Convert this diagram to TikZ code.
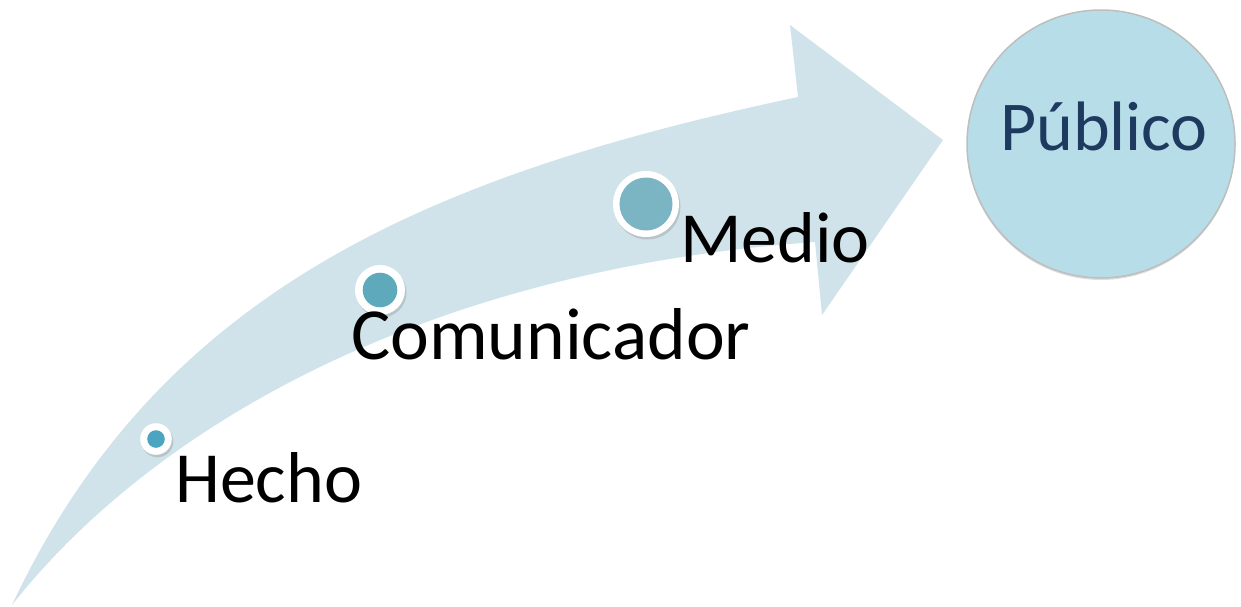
\documentclass[tikz,border=0pt]{standalone}
\usepackage{fontspec}
\setmainfont{Carlito}
\usetikzlibrary{shadows}
\definecolor{arrowfill}{HTML}{D0E3EA}
\definecolor{hechoc}{HTML}{4BA5C0}
\definecolor{comc}{HTML}{5FA9BC}
\definecolor{medioc}{HTML}{7BB4C3}
\definecolor{pubfill}{HTML}{B7DDE8}
\definecolor{pubborder}{HTML}{BEBEBE}
\definecolor{pubtext}{HTML}{1F3A5F}
\tikzset{
  ring/.style={circle, fill=white, draw=none, inner sep=0pt,
    drop shadow={opacity=0.3, shadow xshift=1.5pt, shadow yshift=-2.5pt}},
  core/.style={circle, draw=none, inner sep=0pt},
  lbl/.style={anchor=base west, inner sep=0pt, text=black, font=\fontsize{72}{86}\selectfont}
}
\begin{document}
\begin{tikzpicture}[x=1pt,y=-1pt]
\useasboundingbox (0,0) rectangle (1241,606);
% curved arrow
\fill[arrowfill] (12,605) .. controls (160,290) and (430,175) .. (798,97)
  -- (790,25) -- (943,140) -- (822,315) -- (815,242)
  .. controls (420,270) and (150,430) .. (12,605) -- cycle;
% dots
\node[ring, minimum size=31.6pt] (hring) at (156,439) {};
\node[core, fill=hechoc, minimum size=17.6pt] (hdot) at (hring.center) {};
\node[ring, minimum size=50pt] (cring) at (380,290) {};
\node[core, fill=comc, minimum size=34.6pt] (cdot) at (cring.center) {};
\node[ring, minimum size=66pt] (mring) at (646,204) {};
\node[core, fill=medioc, minimum size=53pt] (mdot) at (mring.center) {};
% labels
\node[lbl] (hecho) at (175,502) {Hecho};
\node[lbl, font=\fontsize{73.5}{88}\selectfont] (comunicador) at (351,359) {Comunicador};
\node[lbl] (medio) at (680,262) {Medio};
% publico
\node[circle, fill=pubfill, draw=pubborder, line width=1.5pt, inner sep=0pt, minimum size=268pt,
  drop shadow={opacity=0.25, shadow xshift=0pt, shadow yshift=-2pt}] (pub) at (1101,144) {};
\node[anchor=base, inner sep=0pt, text=pubtext, font=\fontsize{70}{84}\selectfont] (publabel) at (1104,150) {Público};
\end{tikzpicture}
\end{document}
